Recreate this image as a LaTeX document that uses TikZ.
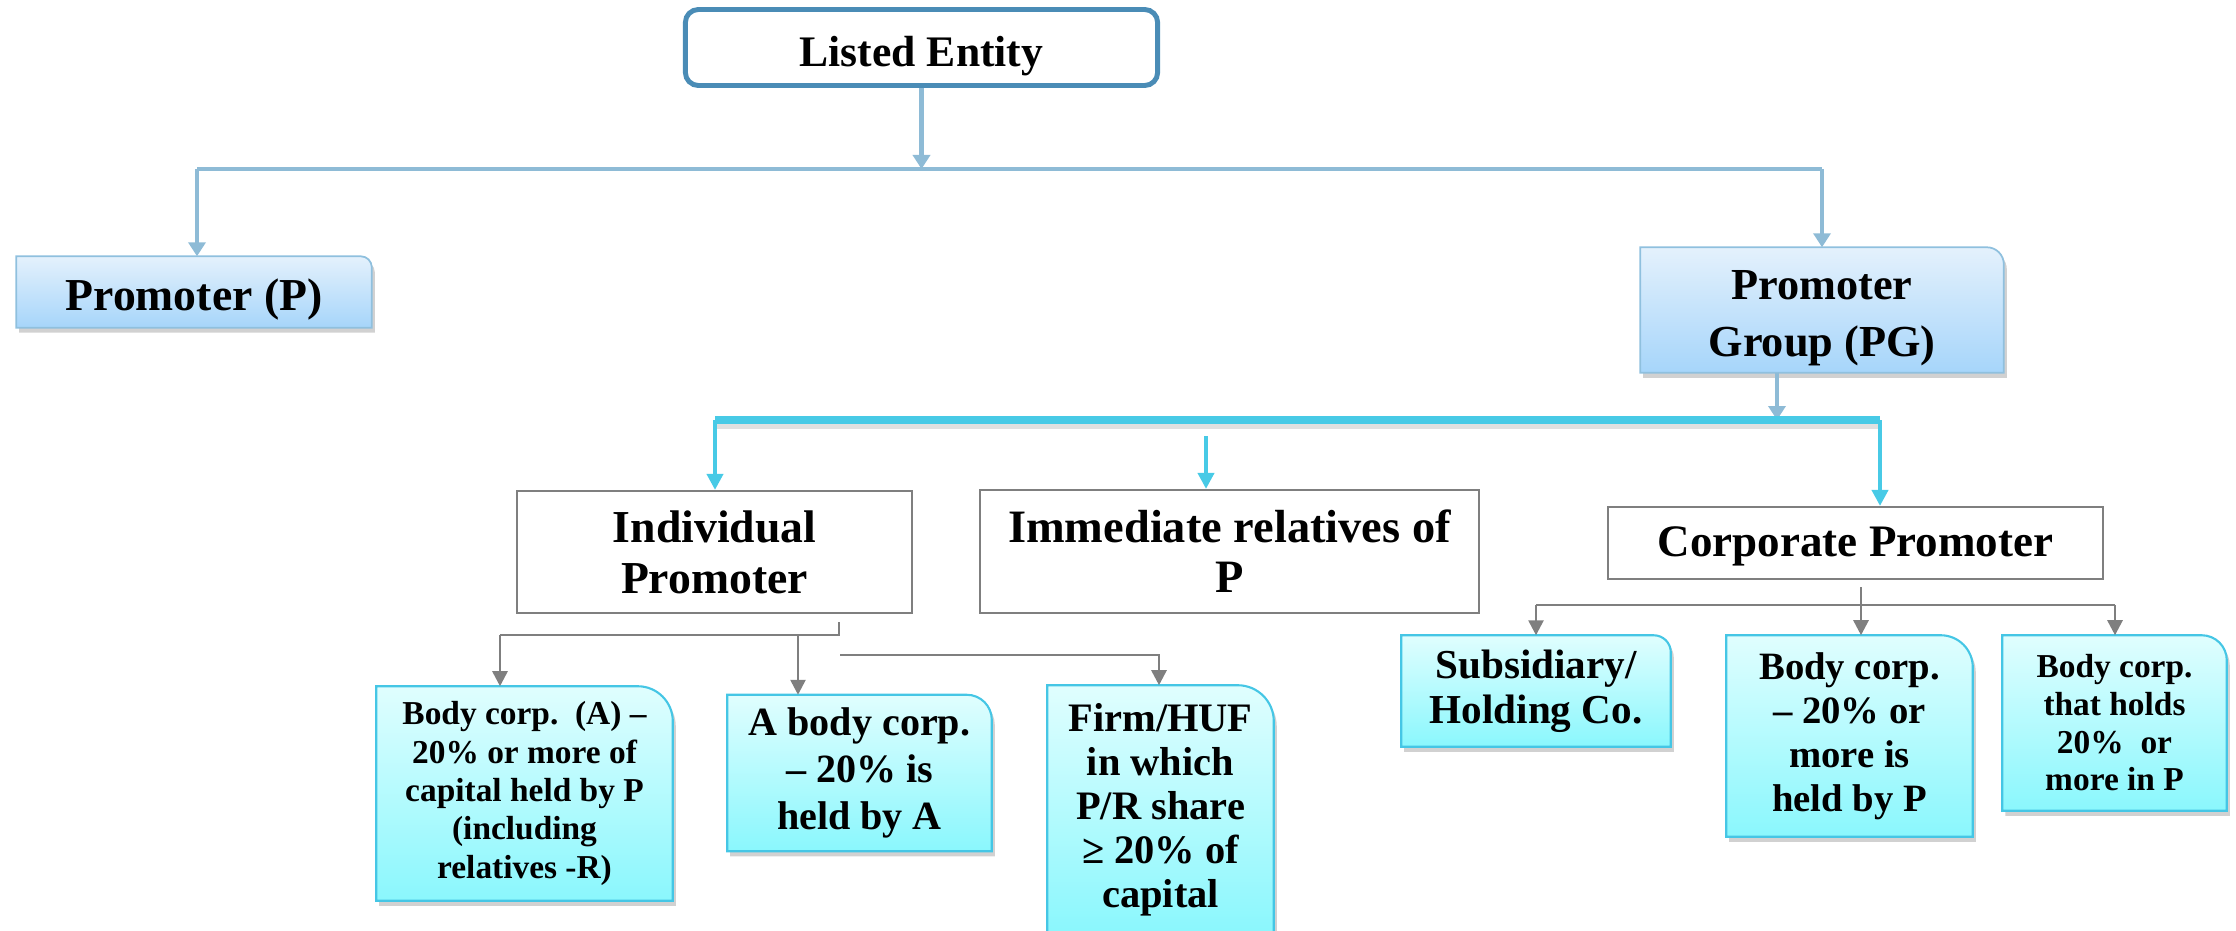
\documentclass[tikz,border=0pt]{standalone}
\usepackage{fontspec}
\setmainfont{Liberation Serif}
\usetikzlibrary{arrows.meta,shadows,backgrounds}
\definecolor{lineblue}{HTML}{8EBBD6}
\definecolor{leedge}{HTML}{4A8CB6}
\definecolor{promtop}{HTML}{E4F1FC}
\definecolor{prombot}{HTML}{A6D5FA}
\definecolor{promedge}{HTML}{8FC0DE}
\definecolor{cyanline}{HTML}{48CAE6}
\definecolor{cyantop}{HTML}{E0FEFE}
\definecolor{cyanbot}{HTML}{8AF7FD}
\definecolor{cyanedge}{HTML}{45C6E5}
\definecolor{linegray}{HTML}{7F7F7F}
\def\tabshape[#1](#2)(#3){\path[#1] (#2.south west) -- (#2.north west) -- ([xshift=-#3]#2.north east) arc (90:0:#3) -- (#2.south east) -- cycle;}
\def\dropby#1#2{\raisebox{-#1}[\height][\depth]{#2}}
\tikzset{
	boxtext/.style={inner sep=0pt, align=center},
	whitebox/.style={draw=linegray, line width=0.6pt, fill=white, inner sep=0pt, align=center},
	promshade/.style={top color=promtop, bottom color=prombot, draw=promedge, line width=0.5pt, drop shadow={shadow xshift=0.03cm, shadow yshift=-0.05cm, fill=black!30, opacity=0.6}},
	cyanshade/.style={top color=cyantop, bottom color=cyanbot, draw=cyanedge, line width=0.6pt, drop shadow={shadow xshift=0.03cm, shadow yshift=-0.05cm, fill=black!30, opacity=0.6}},
	blueline/.style={draw=lineblue, line width=1.4pt},
	bluearrow/.style={blueline, -{Triangle[width=0.17cm, length=0.14cm]}},
	cyanbar/.style={draw=cyanline, line width=2pt},
	cyanarrow/.style={draw=cyanline, line width=1.1pt, -{Triangle[width=0.16cm, length=0.16cm]}},
	grayline/.style={draw=linegray, line width=0.75pt},
	grayarrow/.style={grayline, -{Triangle[width=0.15cm, length=0.15cm]}}
}
\begin{document}
\begin{tikzpicture}[x=0.01cm, y=-0.01cm]
	%%%%% START %%%%%
	\useasboundingbox (0, 0) rectangle (2236, 930);
	
	\node[draw=leedge, line width=1.4pt, rounded corners=0.13cm, fill=white, minimum width=4.72cm, minimum height=0.76cm, font=\bfseries\fontsize{12.4}{14}\selectfont] (le) at (921.5, 47.5) {\dropby{2.3pt}{Listed Entity}};
	
	\node[boxtext, minimum width=3.54cm, minimum height=0.70cm, font=\bfseries\fontsize{13}{15}\selectfont] (prom) at (194, 292) {\dropby{2.2pt}{Promoter (P)}};
	\node[boxtext, minimum width=3.62cm, minimum height=1.24cm, font=\bfseries\fontsize{12.6}{16.2}\selectfont] (pg) at (1822, 310) {\dropby{2.4pt}{Promoter}\\\dropby{2.4pt}{Group (PG)}};
	
	\node[whitebox, minimum width=3.95cm, minimum height=1.22cm, font=\bfseries\fontsize{13}{14.5}\selectfont] (indiv) at (714.5, 552) {Individual\\Promoter};
	\node[whitebox, minimum width=4.99cm, minimum height=1.23cm, font=\bfseries\fontsize{13.2}{14.3}\selectfont] (imm) at (1229.5, 551.5) {Immediate relatives of\\P};
	\node[whitebox, minimum width=4.95cm, minimum height=0.72cm, font=\bfseries\fontsize{12.8}{14}\selectfont] (corp) at (1855.5, 543) {\dropby{1pt}{Corporate Promoter}};
	
	\node[boxtext, minimum width=2.95cm, minimum height=2.13cm, font=\bfseries\fontsize{9.5}{10.9}\selectfont] (bca) at (524.5, 793.5) {Body corp.\ \ (A) –\\20\% or more of\\capital held by P\\(including\\relatives -R)};
	\node[boxtext, minimum width=2.63cm, minimum height=1.55cm, font=\bfseries\fontsize{11.4}{13.4}\selectfont] (abc) at (859.5, 773) {A body corp.\\– 20\% is\\held by A};
	\node[boxtext, minimum width=2.25cm, minimum height=2.48cm, font=\bfseries\fontsize{11.5}{12.5}\selectfont] (firm) at (1160.5, 810) {Firm/HUF\\in which\\P/R share\\≥ 20\% of\\capital};
	\node[boxtext, minimum width=2.68cm, minimum height=1.10cm, font=\bfseries\fontsize{11.7}{12.8}\selectfont] (sub) at (1536, 691) {Subsidiary/\\Holding Co.};
	\node[boxtext, minimum width=2.45cm, minimum height=2.00cm, font=\bfseries\fontsize{11}{12.5}\selectfont] (bcp) at (1849.5, 736) {Body corp.\\– 20\% or\\more is\\held by P};
	\node[boxtext, minimum width=2.23cm, minimum height=1.74cm, font=\bfseries\fontsize{9.5}{10.7}\selectfont] (bch) at (2114.5, 723) {Body corp.\\that holds\\20\%\ \ or\\more in P};
	
	\begin{scope}[on background layer]
		\tabshape[promshade](prom)(0.11cm)
		\tabshape[promshade](pg)(0.17cm)
		\tabshape[cyanshade](bca)(0.35cm)
		\tabshape[cyanshade](abc)(0.25cm)
		\tabshape[cyanshade](firm)(0.36cm)
		\tabshape[cyanshade](sub)(0.17cm)
		\tabshape[cyanshade](bcp)(0.32cm)
		\tabshape[cyanshade](bch)(0.25cm)
	\end{scope}
	
	% top level
	\coordinate (barL) at (197, 169);
	\coordinate (barR) at (1822, 169);
	\draw[blueline] (barL) -- (barR);
	\draw[bluearrow] (le.south) -- (le.south |- barL);
	\draw[bluearrow] (barL) -- (barL |- prom.north);
	\draw[bluearrow] (barR) -- (pg.north);
	
	% promoter group
	\coordinate (cyL) at (715, 420);
	\coordinate (cyR) at (1880, 420);
	\coordinate (imtop) at (1206, 436);
	\draw[black!12, line width=3pt] ([yshift=-0.04cm]cyL) -- ([yshift=-0.04cm]cyR);
	\draw[bluearrow] ([xshift=-0.45cm]pg.south) -- ([xshift=-0.45cm]pg.south |- cyL);
	\draw[cyanbar] (cyL) -- (cyR);
	\draw[cyanarrow] (cyL) -- (cyL |- indiv.north);
	\draw[cyanarrow] (imtop) -- (imtop |- imm.north);
	\draw[cyanarrow] (cyR) -- (cyR |- corp.north);
	
	% individual promoter
	\coordinate (ipstub) at (839, 622);
	\coordinate (ipR) at (839, 635);
	\coordinate (ipL) at (500, 635);
	\coordinate (ipM) at (798, 635);
	\coordinate (fhL) at (840, 655);
	\coordinate (fhR) at (1159, 655);
	\draw[grayline] (ipstub) -- (ipR) -- (ipL);
	\draw[grayarrow] (ipL) -- (ipL |- bca.north);
	\draw[grayarrow] (ipM) -- (ipM |- abc.north);
	\draw[grayarrow] (fhL) -- (fhR) -- (fhR |- firm.north);
	
	% corporate promoter
	\coordinate (cpstub) at (1861, 587);
	\coordinate (cpL) at (1536, 605);
	\coordinate (cpR) at (2115, 605);
	\draw[grayline] (cpL) -- (cpR);
	\draw[grayarrow] (cpstub) -- (cpstub |- bcp.north);
	\draw[grayarrow] (cpL) -- (cpL |- sub.north);
	\draw[grayarrow] (cpR) -- (cpR |- bch.north);
	
	%%%%% END %%%%%
\end{tikzpicture}
\end{document}
